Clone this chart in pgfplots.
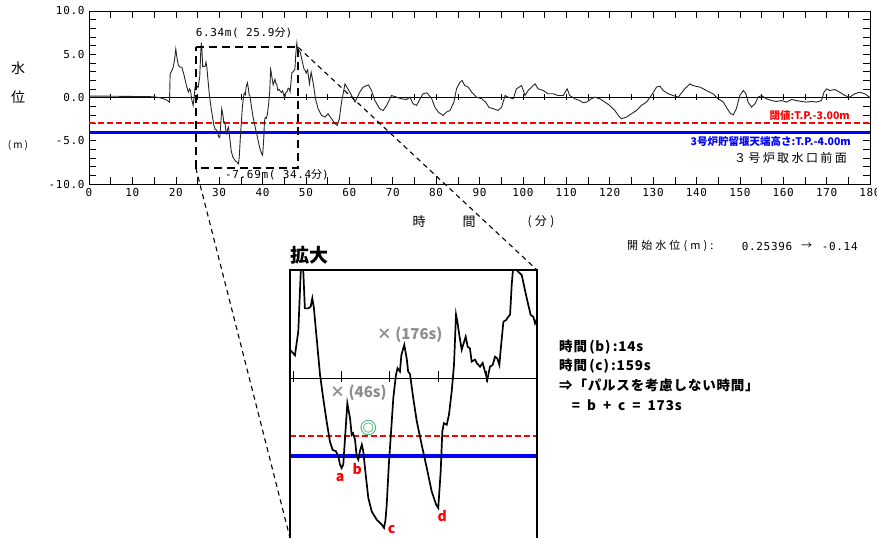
\documentclass[border=0pt]{standalone}
\usepackage{fontspec}
\setmainfont{Noto Sans CJK JP}
\newfontfamily\jp{Noto Sans CJK JP}
\newfontfamily\jpsp[LetterSpace=20]{Noto Sans CJK JP}
\newfontfamily\jpspp[LetterSpace=28]{Noto Sans CJK JP}
\newfontfamily\jpb[LetterSpace=6]{Noto Sans CJK JP}
\newfontfamily\mono[LetterSpace=6]{DejaVu Sans Mono}
\usepackage{pgfplots}
\usepackage{pgfplotstable}
\pgfplotsset{compat=1.18}
\newcommand\fs[1]{\fontsize{#1}{#1}\selectfont}
\newcommand\gsp{\hspace{7pt}}
\definecolor{annogray}{RGB}{140,140,140}
\definecolor{annogreen}{RGB}{20,170,80}
\definecolor{thrred}{RGB}{255,0,0}

\pgfplotstableread{
t h
0 0.15
5 0.15
10 0.12
14 0.10
15.5 0.05
16.5 -0.05
17.5 -0.2
18.2 -0.4
18.55 -0.55
18.7 2.7
19.0 3.0
19.4 3.5
19.7 4.3
20.0 5.6
20.3 4.5
20.6 3.7
21.0 3.5
21.4 3.5
21.8 2.8
22.1 2.16
22.5 1.3
22.9 0.62
23.2 1.0
23.4 0.8
23.7 -0.3
24.0 -0.92
24.3 0.3
24.45 1.2
24.66 1.45
25.17 1.16
25.52 2.4
25.77 5.42
25.9 6.34
26.04 5.45
26.2 3.57
26.55 3.57
26.8 3.66
26.97 4.09
27.14 3.57
27.42 2.05
27.77 0.17
28.1 -1.04
28.46 -2.24
28.8 -3.27
29.08 -3.69
29.42 -3.76
29.66 -4.02
29.84 -4.44
30.0 -4.62
30.18 -4.44
30.36 -3.09
30.6 -1.3
30.88 -2.07
31.05 -2.92
31.2 -2.84
31.4 -3.18
31.57 -4.02
31.74 -4.19
31.9 -3.76
32.1 -3.42
32.25 -3.76
32.43 -4.62
32.77 -6.15
33.12 -6.84
33.64 -7.27
34.16 -7.52
34.4 -7.69
34.55 -7.3
34.68 -6.5
34.9 -4.44
35.2 -2.24
35.36 -1.04
35.64 0.17
35.8 0.5
36.05 0.33
36.2 1.18
36.5 1.7
36.75 1.0
36.9 0.33
37.09 0.2
37.43 -1.04
37.8 -2.24
38.3 -3.42
38.83 -4.62
39.34 -5.82
39.8 -6.5
40.02 -6.67
40.27 -4.8
40.44 -2.75
40.6 -2.32
40.9 -2.4
41.13 -1.88
41.41 -0.7
41.65 0.67
41.86 3.25
42.0 2.89
42.2 2.2
42.45 1.45
42.6 1.7
42.86 2.12
43.07 1.6
43.3 1.52
43.48 0.84
43.83 0.94
44.0 0.77
44.35 0.58
44.62 0.77
44.86 0.33
45.1 -0.09
45.38 0.58
45.66 0.67
45.9 1.09
46.14 1.0
46.35 0.67
46.5 1.52
46.77 2.89
47.04 2.97
47.28 3.14
47.46 3.25
47.63 4.78
47.8 5.8
47.9 6.3
48.05 5.6
48.3 5.45
48.67 5.28
49.0 4.51
49.35 3.74
49.6 3.23
49.87 3.14
50.05 2.8
50.4 3.2
50.8 1.58
51.2 2.93
51.7 1.58
52.2 -0.15
52.8 -1.3
53.6 -2.08
54.4 -2.26
55.1 -1.88
55.9 -2.46
56.7 -3.03
57.2 -3.23
57.7 -2.46
58.2 -0.53
59.0 1.58
60.1 0.62
61.3 -0.53
62.4 0.62
63.2 1.2
64.4 1.46
65.1 0.81
65.9 -0.35
67.0 -1.3
67.8 -1.5
68.6 -0.92
69.7 0.23
70.9 0.04
72.0 -0.15
73.2 -0.23
73.96 0.04
74.7 -0.73
75.5 -0.92
76.3 -0.15
77.0 0.43
77.9 0.54
79.0 -0.15
79.7 -1.11
80.5 -1.68
81.6 -2.08
82.4 -1.68
83.2 -1.5
84.1 -0.53
84.7 1.0
85.5 1.78
86.0 1.96
86.6 1.38
87.4 1.2
88.2 0.62
89.3 0.04
90.5 -0.15
91.4 -0.53
92.2 -1.15
93.2 -1.3
94.3 -1.5
95.1 -1.11
95.9 0.23
96.6 0.04
97.8 -0.15
98.5 1.0
99.7 1.38
100.5 0.23
101.2 0.81
102.0 1.2
102.8 1.58
103.5 1.0
104.7 0.81
105.8 0.43
107.0 0.43
108.1 0.23
109.3 0.23
110.2 1.0
110.8 0.23
112.0 -0.15
113.1 -0.35
113.9 -0.61
114.7 -0.53
115.8 -0.15
116.6 0.04
117.7 -0.15
118.9 -0.53
120.0 -0.92
121.2 -1.5
122.0 -2.08
122.7 -2.46
123.9 -2.26
125.0 -1.88
126.2 -1.5
127.3 -0.92
128.5 -0.53
129.6 0.23
130.8 1.2
131.6 1.31
132.3 0.81
133.5 0.43
134.6 0.23
135.8 0.04
137.3 1.0
138.5 1.58
139.2 1.38
140.8 1.2
142.3 0.81
143.8 0.43
145.0 -0.15
146.2 -0.53
147.1 -1.3
147.9 -1.88
148.5 -2.0
149.2 -1.3
150.0 0.23
150.8 0.81
151.4 0.43
151.9 -0.53
152.7 -1.11
153.5 -0.73
154.2 0.04
155.0 0.23
156.1 -0.15
157.3 -0.35
158.4 -0.46
159.6 -0.35
160.8 -0.53
161.9 -0.23
163.0 -0.35
164.2 -0.46
165.4 -0.53
166.5 -0.46
167.7 -0.53
168.8 -0.35
169.4 0.62
170.0 1.0
170.7 0.81
171.9 0.92
173.0 0.62
174.2 0.23
175.3 0.04
176.5 0.43
177.6 0.62
178.8 0.43
180.0 0.0
}\wl

\begin{document}
\begin{tikzpicture}[x=1pt,y=1pt]
\useasboundingbox (0,0) rectangle (877,538);

% ---------------- main chart ----------------
\begin{axis}[name=main, at={(89pt,354pt)}, anchor=south west,
  width=781pt, height=173pt, scale only axis,
  xmin=0, xmax=180, ymin=-10, ymax=10,
  xtick={0,10,...,180}, minor xtick={5,15,...,175},
  xticklabels={0,10,20,30,40,50,60,70,80,90,100,110,120,130,140,150,160,170,180},
  ytick={-10,-5,0,5,10}, minor ytick={-9,-8,-7,-6,-4,-3,-2,-1,1,2,3,4,6,7,8,9},
  yticklabels={-10.0,-5.0,0.0,5.0,10.0},
  tick align=inside, major tick length=7pt, minor tick length=7pt,
  tick style={black, line width=0.5pt},
  axis line style={black, line width=0.7pt},
  ticklabel style={font=\mono\fs{11}},
  xticklabel style={yshift=-1pt},
  yticklabel style={xshift=-1pt},
  clip=true]
\addplot[black, line width=0.6pt] coordinates {(0,0) (180,0)};
\addplot[black, line width=0.5pt, unbounded coords=jump] coordinates {
 (5,-0.25)(5,0.4)(5,nan) (15,-0.25)(15,0.4)(15,nan) (25,-0.25)(25,0.4)(25,nan)
 (35,-0.25)(35,0.4)(35,nan) (45,-0.25)(45,0.4)(45,nan) (50,-0.25)(50,0.4)(50,nan)
 (55,-0.25)(55,0.4)(55,nan) (65,-0.25)(65,0.4)(65,nan) (75,-0.25)(75,0.4)(75,nan)
 (80,-0.25)(80,0.4)(80,nan) (85,-0.25)(85,0.4)(85,nan) (95,-0.25)(95,0.4)(95,nan)
 (100,-0.25)(100,0.4)(100,nan) (105,-0.25)(105,0.4)(105,nan) (110,-0.25)(110,0.4)(110,nan)
 (115,-0.25)(115,0.4)(115,nan) (120,-0.25)(120,0.4)(120,nan) (125,-0.25)(125,0.4)(125,nan)
 (130,-0.25)(130,0.4)(130,nan) (135,-0.25)(135,0.4)(135,nan) (140,-0.25)(140,0.4)(140,nan)
 (145,-0.25)(145,0.4)(145,nan) (155,-0.25)(155,0.4)(155,nan) (160,-0.25)(160,0.4)(160,nan)
 (165,-0.25)(165,0.4)(165,nan) (170,-0.25)(170,0.4)(170,nan) (175,-0.25)(175,0.4)(175,nan)};
\addplot[draw=thrred, line width=2pt, dash pattern=on 6pt off 3pt] coordinates {(0,-3) (180,-3)};
\addplot[blue, line width=2.9pt] coordinates {(0,-4) (180,-4)};
\addplot[black!85, line width=0.9pt] table[x=t,y=h] {\wl};
\addplot[black, line width=2.2pt, dash pattern=on 8pt off 5pt] coordinates
  {(24.62,5.8) (48.22,5.8) (48.22,-8.15) (24.62,-8.15) (24.62,5.8)};
\coordinate (bTR) at (axis cs:48.22,5.8);
\coordinate (bBL) at (axis cs:24.62,-8.15);
\end{axis}

% ---------------- inset ----------------
\begin{axis}[name=inset, at={(290pt,0pt)}, anchor=south west,
  width=247pt, height=268pt, scale only axis, hide axis,
  xmin=24.66, xmax=50.25, ymin=-8.21, ymax=5.54, clip=true]
\addplot[black, line width=0.7pt] coordinates {(24.66,0) (50.25,0)};
\addplot[black, line width=0.8pt, unbounded coords=jump] coordinates {
 (25,-0.2)(25,0.35)(25,nan) (30,-0.2)(30,0.35)(30,nan) (35,-0.2)(35,0.35)(35,nan)
 (40,-0.2)(40,0.35)(40,nan) (45,-0.2)(45,0.35)(45,nan)};
\addplot[draw=thrred, line width=2pt, dash pattern=on 6pt off 3pt] coordinates {(24.66,-3) (50.25,-3)};
\addplot[blue, line width=3.2pt] coordinates {(24.66,-4) (50.25,-4)};
\addplot[black, line width=1.7pt] table[x=t,y=h] {\wl};
\coordinate (iSW) at (rel axis cs:0,0);
\coordinate (iNW) at (rel axis cs:0,1);
\coordinate (iNE) at (rel axis cs:1,1);
\coordinate (iSE) at (rel axis cs:1,0);
\end{axis}
\draw[black, line width=2.2pt] (iSW) -- (iNW) -- (iNE) -- (iSE);
\draw[black, line width=1.1pt, dash pattern=on 5pt off 4pt] (bTR) -- (iNE);
\draw[black, line width=1.1pt, dash pattern=on 5pt off 4pt] (bBL) -- (iSW);

% ---------------- main texts ----------------
\node[inner sep=0, font=\jp\fs{14}] at (18,470) {水};
\node[inner sep=0, font=\jp\fs{14}] at (18,441) {位};
\node[inner sep=0, font=\jpsp\fs{10}] at (18,393) {(m)};
\node[inner sep=0, font=\jp\fs{13}] at (419,316) {時};
\node[inner sep=0, font=\jp\fs{13}] at (469,316) {間};
\node[inner sep=0, font=\jpspp\fs{12}] at (541,316) {(分)};
\node[inner sep=0] at (244,505) {\mono\fs{11}6.34m( 25.9{\jp 分})};
\node[inner sep=0] at (277,363) {\mono\fs{11}-7.69m( 34.4{\jp 分})};
\node[inner sep=0, anchor=east, text=thrred, font=\bfseries\fs{10.5}] at (850,422) {閾値:T.P.-3.00m};
\node[inner sep=0, anchor=east, text=blue, font=\bfseries\fs{10.5}] at (851,396.5) {3号炉貯留堰天端高さ:T.P.-4.00m};
\node[inner sep=0, anchor=east, font=\jpsp\fs{12}] at (847,380) {３号炉取水口前面};
\node[inner sep=0, anchor=west, font=\jpspp\fs{11}] at (627,292) {開始水位(m):};
\node[inner sep=0, anchor=west, font=\mono\fs{11}] at (741.7,292) {0.25396};
\node[inner sep=0, anchor=west, font=\jp\fs{11}] at (801,292) {→};
\node[inner sep=0, anchor=west, font=\mono\fs{11}] at (821.7,292) {-0.14};

% ---------------- explanation block ----------------
\node[inner sep=0, anchor=west, font=\jpb\bfseries\fs{13.5}] at (559,190.7) {時間\,(b)\,:14s};
\node[inner sep=0, anchor=west, font=\jpb\bfseries\fs{13.5}] at (559,172) {時間\,(c)\,:159s};
\node[inner sep=0, anchor=west, font=\jpb\bfseries\fs{13.5}] at (559,153) {⇒「パルスを考慮しない時間」};
\node[inner sep=0, anchor=west, font=\jpb\bfseries\fs{13.5}] at (571.7,133) {=\gsp b\gsp +\gsp c\gsp =\gsp 173s};

% ---------------- inset annotations ----------------
\node[inner sep=0, anchor=west, font=\bfseries\fs{19}] at (290.5,283) {拡大};
\node[inner sep=0, anchor=west, text=annogray, font=\bfseries\fs{15}] at (376.7,203) {× (176s)};
\node[inner sep=0, anchor=west, text=annogray, font=\bfseries\fs{15}] at (330,145.3) {× (46s)};
\node[inner sep=0, text=annogreen, font=\bfseries\fs{17}] at (368.3,109.7) {◎};
\node[inner sep=0, text=thrred, font=\bfseries\fs{14}] at (340,60.7) {a};
\node[inner sep=0, text=thrred, font=\bfseries\fs{14}] at (357.3,68.7) {b};
\node[inner sep=0, text=thrred, font=\bfseries\fs{14}] at (391.7,8) {c};
\node[inner sep=0, text=thrred, font=\bfseries\fs{14}] at (442.3,22) {d};
\end{tikzpicture}
\end{document}
